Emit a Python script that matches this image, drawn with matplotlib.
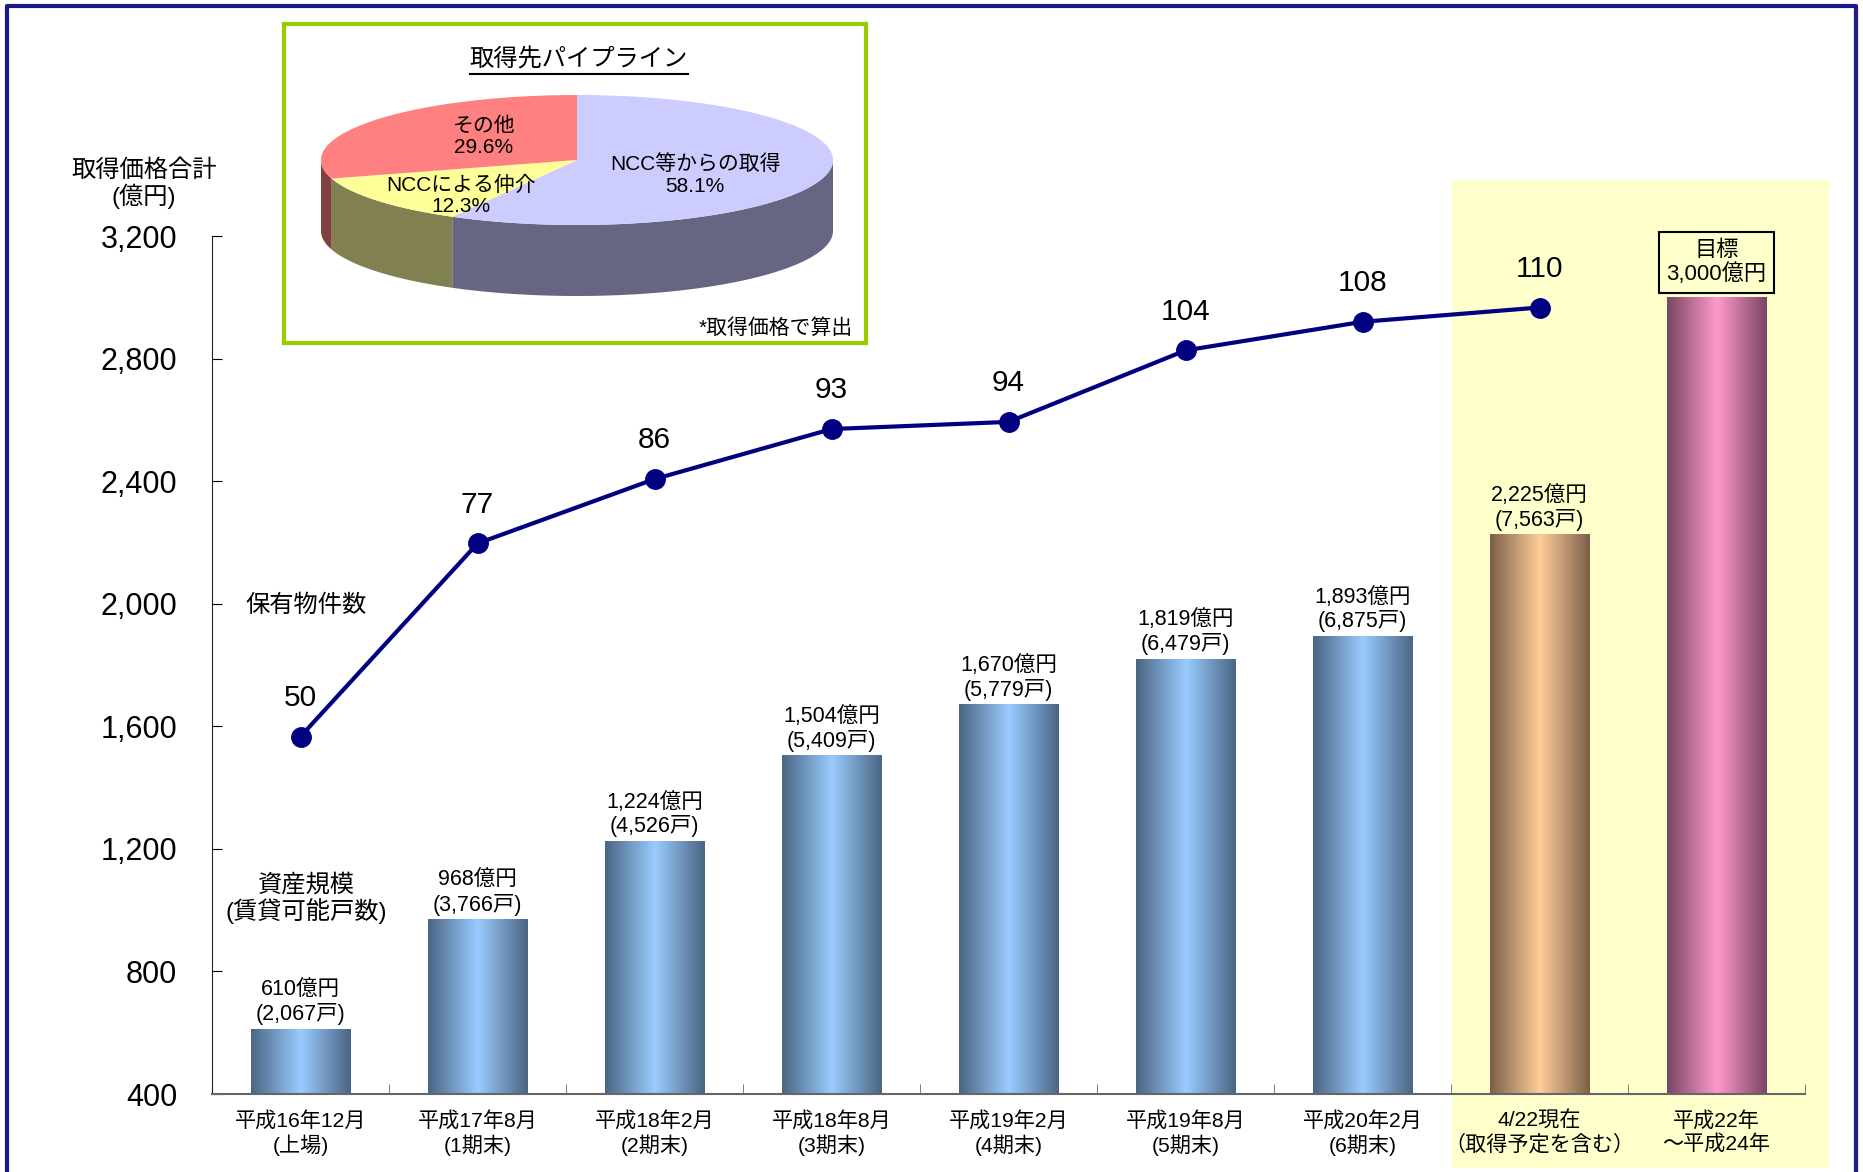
import numpy as np
import matplotlib
matplotlib.use('Agg')
import matplotlib.pyplot as plt
from matplotlib.colors import LinearSegmentedColormap
from matplotlib.patches import Rectangle, Polygon
from matplotlib.lines import Line2D

plt.rcParams['font.family'] = ['Liberation Sans', 'Noto Sans CJK JP', 'DejaVu Sans']

# data
periods = ['平成16年12月\n(上場)', '平成17年8月\n(1期末)', '平成18年2月\n(2期末)',
           '平成18年8月\n(3期末)', '平成19年2月\n(4期末)', '平成19年8月\n(5期末)',
           '平成20年2月\n(6期末)', '4/22現在\n（取得予定を含む）', '平成22年\n～平成24年']
asset_size = [610, 968, 1224, 1504, 1670, 1819, 1893, 2225, 3000]   # 億円
units = [2067, 3766, 4526, 5409, 5779, 6479, 6875, 7563]            # 賃貸可能戸数
property_count = [50, 77, 86, 93, 94, 104, 108, 110]
yticks = [400, 800, 1200, 1600, 2000, 2400, 2800, 3200]

pipeline_labels = ['NCC等からの取得', 'NCCによる仲介', 'その他']
pipeline_share = [58.1, 12.3, 29.6]

W, H = 1863, 1172
fig = plt.figure(figsize=(W / 100, H / 100), dpi=100)


def fx(px):
    return px / W


def fy(py):
    return 1 - py / H


# outer frame (open at the bottom)
fig.add_artist(Line2D([fx(7), fx(7), fx(1856), fx(1856)], [0, fy(6), fy(6), 0],
                      color='#1A1A8C', lw=3, transform=fig.transFigure))
# highlight behind the last two columns
fig.add_artist(Rectangle((fx(1452), fy(1168)), (1829 - 1452) / W, (1168 - 180) / H,
                         transform=fig.transFigure, fc='#FFFFCC', ec='none', zorder=-1))

ax = fig.add_axes([fx(212), fy(1094), (1805 - 212) / W, (1094 - 236) / H])
ax.set_facecolor('none')

blue = LinearSegmentedColormap.from_list('blue', ['#4B6583', '#99CCFF', '#4B6583'])
orange = LinearSegmentedColormap.from_list('orange', ['#7A6048', '#FFCC99', '#7A6048'])
pink = LinearSegmentedColormap.from_list('pink', ['#7A4662', '#FF99CC', '#7A4662'])
bar_cmaps = [blue] * 7 + [orange, pink]

grad = np.linspace(0, 1, 256).reshape(1, -1)
bw = 0.56
for i, v in enumerate(asset_size):
    ax.imshow(grad, cmap=bar_cmaps[i], extent=[i - bw / 2, i + bw / 2, 400, v],
              aspect='auto', interpolation='bilinear', zorder=2)

for i, (v, u) in enumerate(zip(asset_size, units)):
    ax.annotate(f'{v:,}億円\n({u:,}戸)', (i, v), xytext=(0, 3), textcoords='offset points',
                ha='center', va='bottom', fontsize=15.5, linespacing=1.15)

ax.annotate(f'目標\n{asset_size[-1]:,}億円', (8, asset_size[-1]), xytext=(0, 9),
            textcoords='offset points', ha='center', va='bottom', fontsize=16,
            linespacing=1.1,
            bbox=dict(boxstyle='square,pad=0.35', fc='#FFFFCC', ec='black', lw=1.5))

ax.set_xlim(-0.5, 8.5)
ax.set_ylim(400, 3200)
ax.spines['top'].set_visible(False)
ax.spines['right'].set_visible(False)
ax.spines['left'].set_color('#222222')
ax.spines['bottom'].set_color('#666666')
ax.spines['bottom'].set_linewidth(1.5)

ax.set_yticks(yticks)
ax.set_yticklabels([f'{t:,}' for t in yticks], fontsize=22)
ax.tick_params(axis='y', direction='in', length=7, pad=25)
ax.set_xticks(range(len(periods)))
ax.set_xticklabels(periods, fontsize=15.2, linespacing=1.2)
ax.tick_params(axis='x', length=0, pad=12)
ax.set_xticks(np.arange(0.5, len(periods), 1), minor=True)
ax.tick_params(axis='x', which='minor', direction='in', length=7, color='#666666')

# property count on a hidden secondary scale
ax2 = ax.twinx()
ax2.set_ylim(0, 120)
ax2.plot(range(len(property_count)), property_count, color='#000080', lw=3,
         marker='o', ms=14, zorder=3)
for i, n in enumerate(property_count):
    ax2.annotate(str(n), (i, n), xytext=(0, 28), textcoords='offset points',
                 ha='center', va='center', fontsize=21.5)
ax2.axis('off')

fig.text(fx(144), fy(184), '取得価格合計\n(億円)', ha='center', va='center',
         fontsize=17.5, linespacing=1.1)
fig.text(fx(306), fy(606), '保有物件数', ha='center', va='center', fontsize=17.5)
fig.text(fx(306), fy(899), '資産規模\n(賃貸可能戸数)', ha='center', va='center',
         fontsize=17.5, linespacing=1.1)

# pipeline inset: 3D-looking pie
pax = fig.add_axes([fx(284), fy(343), (866 - 284) / W, (343 - 24) / H], zorder=5)
pax.set_xlim(0, 582)
pax.set_ylim(319, 0)
pax.set_xticks([])
pax.set_yticks([])
pax.set_facecolor('white')
for s in pax.spines.values():
    s.set_color('#99CC00')
    s.set_linewidth(3)

cx, cy, rx, ry, depth = 293, 136, 256, 65, 71
top_colors = ['#CCCCFF', '#FFFF99', '#FF8080']
side_colors = ['#666682', '#808050', '#804040']


def ell(t):
    t = np.radians(t)
    return cx + rx * np.cos(t), cy - ry * np.sin(t)


a = 90
for share, tc, sc in zip(pipeline_share, top_colors, side_colors):
    a2 = a - share / 100 * 360
    lo, hi = max(a2, -180), min(a, 0)
    if lo < hi:
        xs, ys = ell(np.linspace(lo, hi, 120))
        pts = np.vstack([np.column_stack([xs, ys]),
                         np.column_stack([xs[::-1], ys[::-1] + depth])])
        pax.add_patch(Polygon(pts, closed=True, fc=sc, ec='none', zorder=1))
    xs, ys = ell(np.linspace(a2, a, 200))
    pts = np.vstack([[cx, cy], np.column_stack([xs, ys])])
    pax.add_patch(Polygon(pts, closed=True, fc=tc, ec='none', zorder=2))
    a = a2

label_pos = [(411, 151), (177, 172), (200, 113)]
for (lx, ly), lab, share in zip(label_pos, pipeline_labels, pipeline_share):
    pax.text(lx, ly, f'{lab}\n{share}%', ha='center', va='center', fontsize=15,
             linespacing=1.15, zorder=3)

title = pax.text(295, 36, '取得先パイプライン', ha='center', va='center', fontsize=17.5)
pax.text(569, 304, '*取得価格で算出', ha='right', va='center', fontsize=15)

# underline the inset title
fig.canvas.draw()
bb = title.get_window_extent(fig.canvas.get_renderer())
fig.add_artist(Line2D([bb.x0 / W, bb.x1 / W], [(bb.y0 - 2) / H, (bb.y0 - 2) / H],
                      color='black', lw=1.5, transform=fig.transFigure, zorder=6))

fig.savefig('out.png', dpi=100)
